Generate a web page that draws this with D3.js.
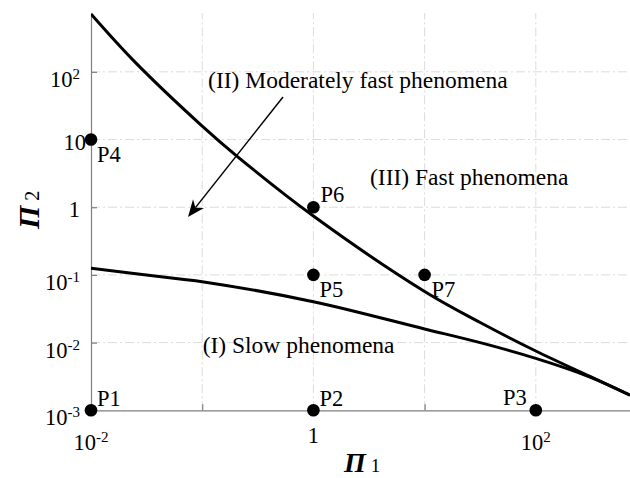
<!DOCTYPE html>
<html>
<head>
<meta charset="utf-8">
<script src="https://cdn.jsdelivr.net/npm/d3@7"></script>
<style>
  html, body { margin: 0; padding: 0; background: #fff; }
  svg { display: block; }
  text { font-family: "Liberation Serif", "Times New Roman", serif; fill: #000; }
</style>
</head>
<body>
<svg id="chart" width="630" height="478"></svg>
<script>
// ---- data ----
const xTickValues = [0.01, 0.1, 1, 10, 100];
const xTickLabels = ["10^-2", "", "1", "", "10^2"];
const yTickValues = [0.001, 0.01, 0.1, 1, 10, 100];
const yTickLabels = ["10^-3", "10^-2", "10^-1", "1", "10", "10^2"];

// boundary between (II) and (III)
const upperPi1 = [0.01, 0.0239, 0.1, 0.21, 1, 10, 31.6, 100, 307, 703];
const upperPi2 = [714, 149, 15.8, 5.51, 0.741, 0.0569, 0.0198, 0.00752, 0.00316, 0.00168];
// boundary between (I) and (II)
const lowerPi1 = [0.01, 0.063, 0.1, 1, 10, 31.6, 100, 307, 703];
const lowerPi2 = [0.126, 0.0869, 0.0794, 0.0402, 0.0159, 0.00998, 0.00586, 0.0031, 0.00168];

const pointNames = ["P1", "P2", "P3", "P4", "P5", "P6", "P7"];
const pointPi1 = [0.01, 1, 100, 0.01, 1, 1, 10];
const pointPi2 = [0.001, 0.001, 0.001, 10, 0.1, 1, 0.1];

const regionTexts = ["(II) Moderately fast phenomena", "(III) Fast phenomena", "(I) Slow phenomena"];
const regionPi1 = [0.113, 3.23, 0.101];
const regionPi2 = [57.7, 2.13, 0.00702];

const arrowFrom = [0.533, 42.5];
const arrowTo = [0.0745, 0.716];

// ---- layout ----
const svg = d3.select("#chart");
const x = d3.scaleLog().domain([0.01, 703]).range([91, 630]);
const y = d3.scaleLog().domain([0.001, 740]).range([410.3, 13]);
const FS = 22.5, SUP = 15, RFS = 23.5;

function addLabel(sel, label) {
  const parts = label.split("^");
  sel.append("tspan").text(parts[0]);
  if (parts.length > 1) {
    sel.append("tspan").attr("font-size", SUP).attr("dy", -8).text(parts[1]);
  }
}

// grid
const grid = svg.append("g").attr("stroke", "#dcdcdc").attr("stroke-width", 1)
  .attr("stroke-dasharray", "9,3,2,3").attr("fill", "none");
xTickValues.forEach(v => {
  if (v > 0.01) grid.append("line").attr("x1", x(v)).attr("x2", x(v)).attr("y1", y.range()[0]).attr("y2", y.range()[1]);
});
yTickValues.forEach(v => {
  if (v > 0.001) grid.append("line").attr("x1", x.range()[0]).attr("x2", x.range()[1]).attr("y1", y(v)).attr("y2", y(v));
});

// axes
const xAxis = d3.axisBottom(x).tickValues(xTickValues).tickSize(-6).tickFormat("").tickSizeOuter(0);
const yAxis = d3.axisLeft(y).tickValues(yTickValues).tickSize(-6).tickFormat("").tickSizeOuter(0);
const gx = svg.append("g").attr("transform", `translate(0,${y.range()[0]})`).call(xAxis);
const gy = svg.append("g").attr("transform", `translate(${x.range()[0]},0)`).call(yAxis);
[gx, gy].forEach(g => {
  g.select(".domain").attr("stroke", "#7f7f7f").attr("stroke-width", 1.2);
  g.selectAll(".tick line").attr("stroke", "#7f7f7f").attr("stroke-width", 1.2);
});

// tick labels
xTickValues.forEach((v, i) => {
  const lab = xTickLabels[i];
  if (!lab) return;
  const t = svg.append("text").attr("x", x(v)).attr("y", y.range()[0] + (lab.includes("^") ? 40 : 33))
    .attr("text-anchor", "middle").attr("font-size", FS);
  addLabel(t, lab);
});
yTickValues.forEach((v, i) => {
  const lab = yTickLabels[i];
  const pow = lab.includes("^");
  const t = svg.append("text").attr("x", pow ? 80 : (lab === "1" ? 80 : 86)).attr("y", y(v) + (pow ? 15 : 10))
    .attr("text-anchor", "end").attr("font-size", FS);
  addLabel(t, lab);
});

// axis titles
const xt = svg.append("text").attr("x", 344).attr("y", 472).attr("font-size", 28);
xt.append("tspan").attr("font-weight", "bold").attr("font-style", "italic").text("\u03A0");
xt.append("tspan").attr("font-size", 19).attr("dx", 5).text("1");
const yt = svg.append("text").attr("transform", "translate(39,229) rotate(-90)").attr("font-size", 30);
yt.append("tspan").attr("font-weight", "bold").attr("font-style", "italic").text("\u03A0");
yt.append("tspan").attr("font-size", 20).attr("dx", 5).text("2");

// curves
svg.append("clipPath").attr("id", "plotclip").append("rect")
  .attr("x", 91).attr("y", 0).attr("width", 560).attr("height", 412);
const line = d3.line().x(d => x(d[0])).y(d => y(d[1])).curve(d3.curveCatmullRom.alpha(0.5));
const curves = svg.append("g").attr("clip-path", "url(#plotclip)");
curves.append("path").datum(upperPi1.map((v, i) => [v, upperPi2[i]]))
  .attr("d", line).attr("fill", "none").attr("stroke", "#000").attr("stroke-width", 3);
curves.append("path").datum(lowerPi1.map((v, i) => [v, lowerPi2[i]]))
  .attr("d", line).attr("fill", "none").attr("stroke", "#000").attr("stroke-width", 3);

// points
const lblOff = { P1: [6, -4, "start"], P2: [6, -4, "start"], P3: [-9, -5, "end"], P4: [6, 22, "start"],
                 P5: [6, 22, "start"], P6: [7, -5, "start"], P7: [7, 22, "start"] };
pointNames.forEach((n, i) => {
  const px = x(pointPi1[i]), py = y(pointPi2[i]);
  svg.append("circle").attr("cx", px).attr("cy", py).attr("r", 6.3).attr("fill", "#000");
  const o = lblOff[n];
  svg.append("text").attr("x", px + o[0]).attr("y", py + o[1]).attr("text-anchor", o[2])
    .attr("font-size", FS).text(n);
});

// region texts
regionTexts.forEach((s, i) => {
  svg.append("text").attr("x", x(regionPi1[i])).attr("y", y(regionPi2[i])).attr("font-size", RFS).text(s);
});

// arrow
const ax1 = x(arrowFrom[0]), ay1 = y(arrowFrom[1]), ax2 = x(arrowTo[0]), ay2 = y(arrowTo[1]);
const ang = Math.atan2(ay2 - ay1, ax2 - ax1);
const L = 17, W = 7, back = 12;
const bx = ax2 - back * Math.cos(ang), by = ay2 - back * Math.sin(ang);
svg.append("line").attr("x1", ax1).attr("y1", ay1).attr("x2", bx).attr("y2", by)
  .attr("stroke", "#000").attr("stroke-width", 1.5);
const hx = ax2 - L * Math.cos(ang), hy = ay2 - L * Math.sin(ang);
const px_ = -Math.sin(ang), py_ = Math.cos(ang);
svg.append("path").attr("d",
  `M${ax2},${ay2} L${hx + W * px_},${hy + W * py_} L${bx},${by} L${hx - W * px_},${hy - W * py_} Z`)
  .attr("fill", "#000");
</script>
</body>
</html>
